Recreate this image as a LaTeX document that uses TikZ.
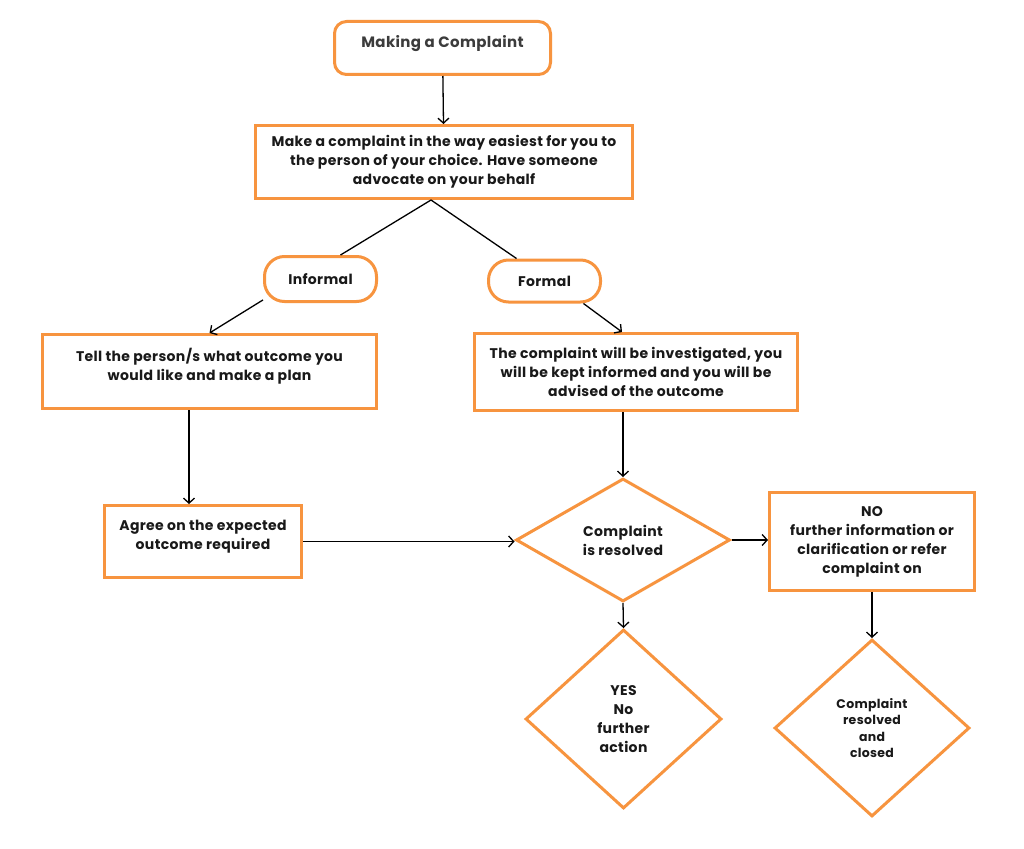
\documentclass[tikz,border=0pt]{standalone}
\usepackage{fontspec}
\setmainfont{Poppins}[LetterSpace=2.5]
\usetikzlibrary{shapes.geometric,arrows.meta}
\definecolor{boxorange}{HTML}{F7943F}
\definecolor{titlegray}{HTML}{3C3C3C}
\newcommand{\lowpad}{\rule[-14pt]{0pt}{1pt}}

\begin{document}
\begin{tikzpicture}[x=1pt,y=-1pt,
    every node/.style={font=\fontsize{14}{19}\selectfont\bfseries, text=black!90, align=center},
    box/.style={draw=boxorange, line width=3pt, rectangle},
    pill/.style={box, rounded corners=20pt},
    decision/.style={box, diamond, inner sep=0pt},
    >={Straight Barb[length=5pt,width=11pt]}]
  \fill[white] (0,0) rectangle (1024,848);
  \useasboundingbox (0,0) rectangle (1024,848);
  \draw
    (442.5,48) node[pill, rounded corners=12pt, minimum width=216pt, minimum height=53pt,
      text=titlegray, font=\fontsize{15}{19}\selectfont\bfseries] (title){Making a Complaint\lowpad}
    (444,162) node[box, minimum width=377pt, minimum height=73pt] (split){Make a complaint in the way easiest for you to\\the person of your choice. Have someone\\advocate on your behalf}
    (320.5,279) node[pill, minimum width=112pt, minimum height=45pt] (informal){Informal}
    (544.5,281) node[pill, minimum width=112pt, minimum height=42pt] (formal){Formal}
    (209.5,371.5) node[box, minimum width=334pt, minimum height=74pt] (tell){Tell the person/s what outcome you\\would like and make a plan\lowpad}
    (636,372) node[box, minimum width=323pt, minimum height=77pt] (investigate){The complaint will be investigated, you\\will be kept informed and you will be\\advised of the outcome}
    (203,541.5) node[box, minimum width=197pt, minimum height=72pt] (agree){Agree on the expected\\outcome required\lowpad}
    (623,540) node[decision, minimum width=214pt, minimum height=123pt] (resolved){Complaint\\is resolved}
    (872,541.5) node[box, minimum width=205pt, minimum height=98pt] (nofurther){NO\\further information or\\clarification or refer\\complaint on}
    (623.5,719) node[decision, minimum width=196pt, minimum height=179pt] (yes){YES\\No\\further\\action}
    (872,728) node[decision, minimum width=195pt, minimum height=177pt,
      font=\fontsize{12.5}{16.5}\selectfont\bfseries] (closed){Complaint\\resolved\\and\\closed};
  \begin{scope}[-, line width=1.3pt]
    \draw ([xshift=-13pt]split.south) to ([xshift=20pt]informal.north);
    \draw ([xshift=-13pt]split.south) to ([xshift=-28pt]formal.north);
  \end{scope}
  \begin{scope}[->, line width=1.3pt]
    \draw (title) to (split);
    \draw (informal.200) to (tell.north);
    \draw (formal.-30) to ([xshift=-14pt]investigate.north);
    \draw ([xshift=-14pt]agree.north |- tell.south) to ([xshift=-14pt]agree.north);
    \draw (resolved.north |- investigate.south) to (resolved.north);
    \draw (agree.east) to (agree.east -| resolved.west);
    \draw (resolved.east) to (resolved.east -| nofurther.west);
    \draw (resolved.south) to (yes.north);
    \draw (nofurther.south) to (closed.north);
  \end{scope}
\end{tikzpicture}
\end{document}
